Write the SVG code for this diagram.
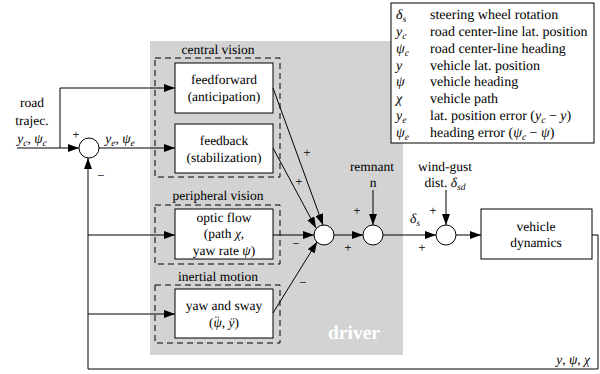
<svg xmlns="http://www.w3.org/2000/svg" width="600" height="374" viewBox="0 0 600 374" font-family="'Liberation Serif', 'Times New Roman', serif" font-size="13.5">
<defs>
<marker id="ah" markerUnits="userSpaceOnUse" markerWidth="11" markerHeight="8" refX="11" refY="4" orient="auto">
<path d="M0,0 L11,4 L0,8 z" fill="#000"/>
</marker>
</defs>
<style>
text{font-family:'Liberation Serif','Times New Roman',serif;font-size:13.5px;fill:#000;text-rendering:geometricPrecision}
.c{text-anchor:middle}
.i{font-style:italic}
.sub{font-size:9.5px;font-style:italic}
.lg{font-size:14px}
.box{fill:#fff;stroke:#000;stroke-width:1}
.dash{fill:none;stroke:#000;stroke-width:1;stroke-dasharray:6,4}
.sum{fill:#fff;stroke:#000;stroke-width:1}
.arr{fill:none;stroke:#000;stroke-width:1;marker-end:url(#ah)}
.sg{font-size:13px}
</style>
<rect width="600" height="374" fill="#fff"/>
<g id="driver">
<rect x="150" y="41" width="253" height="314" fill="#d3d3d3"/>
<text x="354" y="339" class="c" style="font-size:19.5px;font-weight:bold;fill:#fff">driver</text>
</g>
<g id="legend">
<rect x="391" y="3" width="203" height="140" class="box"/>
<text x="396" y="19" class="i lg">δ<tspan class="sub" dy="3">s</tspan></text>
<text x="430" y="19" class="lg">steering wheel rotation</text>
<text x="396" y="36" class="i lg">y<tspan class="sub" dy="3">c</tspan></text>
<text x="430" y="36" class="lg">road center-line lat. position</text>
<text x="396" y="53" class="i lg">ψ<tspan class="sub" dy="3">c</tspan></text>
<text x="430" y="53" class="lg">road center-line heading</text>
<text x="396" y="70" class="i lg">y</text>
<text x="430" y="70" class="lg">vehicle lat. position</text>
<text x="396" y="86" class="i lg">ψ</text>
<text x="430" y="86" class="lg">vehicle heading</text>
<text x="396" y="103" class="i lg">χ</text>
<text x="430" y="103" class="lg">vehicle path</text>
<text x="396" y="120" class="i lg">y<tspan class="sub" dy="3">e</tspan></text>
<text x="430" y="120" class="lg">lat. position error (<tspan class="i">y</tspan><tspan class="sub" dy="3">c</tspan><tspan dy="-3"> − </tspan><tspan class="i">y</tspan>)</text>
<text x="396" y="137" class="i lg">ψ<tspan class="sub" dy="3">e</tspan></text>
<text x="430" y="137" class="lg">heading error (<tspan class="i">ψ</tspan><tspan class="sub" dy="3">c</tspan><tspan dy="-3"> − </tspan><tspan class="i">ψ</tspan>)</text>
</g>
<g id="input-label">
<text x="32" y="107" class="c">road</text>
<text x="32" y="125" class="c">trajec.</text>
<text x="32" y="143" class="c"><tspan class="i">y</tspan><tspan class="sub" dy="3">c</tspan><tspan dy="-3">, </tspan><tspan class="i">ψ</tspan><tspan class="sub" dy="3">c</tspan></text>
</g>
<g id="central-vision">
<rect x="155" y="58" width="125" height="119" class="dash"/>
<text x="218" y="54" class="c">central vision</text>
</g>
<g id="peripheral-vision">
<rect x="155" y="205" width="125" height="59" class="dash"/>
<text x="218" y="200" class="c">peripheral vision</text>
</g>
<g id="inertial-motion">
<rect x="155" y="285" width="125" height="58" class="dash"/>
<text x="218" y="281" class="c">inertial motion</text>
</g>
<g id="feedforward">
<rect x="175" y="63" width="98" height="50" class="box"/>
<text x="224" y="84" class="c">feedforward</text>
<text x="224" y="101" class="c">(anticipation)</text>
</g>
<g id="feedback">
<rect x="175" y="124" width="98" height="49" class="box"/>
<text x="224" y="145" class="c">feedback</text>
<text x="224" y="162" class="c">(stabilization)</text>
</g>
<g id="optic-flow">
<rect x="175" y="209" width="98" height="50" class="box"/>
<text x="224" y="222" class="c">optic flow</text>
<text x="224" y="238" class="c">(path <tspan class="i">χ</tspan>,</text>
<text x="224" y="255" class="c">yaw rate <tspan class="i">ψ</tspan>)</text>
</g>
<g id="yaw-sway">
<rect x="175" y="289" width="98" height="49" class="box"/>
<text x="224" y="310" class="c">yaw and sway</text>
<text x="224" y="327" class="c">(<tspan class="i">ψ</tspan><tspan dx="-7" dy="-2">¨</tspan><tspan dx="2.5" dy="2">, </tspan><tspan class="i">ÿ</tspan>)</text>
</g>
<g id="vehicle-dynamics">
<rect x="481" y="209" width="111" height="50" class="box"/>
<text x="536" y="231" class="c">vehicle</text>
<text x="536" y="247" class="c">dynamics</text>
</g>
<g id="sum1"><circle cx="89" cy="148" r="10" class="sum"/></g>
<g id="sum2"><circle cx="324" cy="235" r="10" class="sum"/></g>
<g id="sum3"><circle cx="373" cy="235" r="10" class="sum"/></g>
<g id="sum4"><circle cx="446" cy="235" r="10" class="sum"/></g>
<g id="connectors">
<line x1="17" y1="148" x2="79" y2="148" class="arr"/>
<polyline points="60,148 60,88 175,88" class="arr"/>
<line x1="99" y1="148" x2="175" y2="148" class="arr"/>
<polyline points="592,235 598,235 598,369 88,369 88,158" class="arr"/>
<line x1="88" y1="235" x2="175" y2="235" class="arr"/>
<line x1="88" y1="314" x2="175" y2="314" class="arr"/>
<line x1="273" y1="88" x2="323" y2="225" class="arr"/>
<line x1="273" y1="148" x2="316" y2="228" class="arr"/>
<line x1="273" y1="235" x2="314" y2="235" class="arr"/>
<line x1="273" y1="313" x2="317" y2="242" class="arr"/>
<line x1="334" y1="235" x2="363" y2="235" class="arr"/>
<line x1="373" y1="190" x2="373" y2="225" class="arr"/>
<line x1="383" y1="235" x2="436" y2="235" class="arr"/>
<line x1="446" y1="190" x2="446" y2="225" class="arr"/>
<line x1="456" y1="235" x2="481" y2="235" class="arr"/>
</g>
<g id="labels">
<text x="76" y="139" class="c sg">+</text>
<text x="101" y="180" class="c sg">−</text>
<text x="120" y="143" class="c"><tspan class="i">y</tspan><tspan class="sub" dy="3">e</tspan><tspan dy="-3">, </tspan><tspan class="i">ψ</tspan><tspan class="sub" dy="3">e</tspan></text>
<text x="307" y="157" class="c sg">+</text>
<text x="299" y="186" class="c sg">+</text>
<text x="296" y="248" class="c sg">−</text>
<text x="303" y="287" class="c sg">−</text>
<text x="348" y="252" class="c sg">+</text>
<text x="357" y="215" class="c sg">+</text>
<text x="422" y="252" class="c sg">+</text>
<text x="433" y="215" class="c sg">+</text>
<text x="372" y="171" class="c">remnant</text>
<text x="373" y="187" class="c">n</text>
<text x="445" y="171" class="c">wind-gust</text>
<text x="445" y="187" class="c">dist. <tspan class="i">δ</tspan><tspan class="sub" dy="3">sd</tspan></text>
<text x="410" y="223" class="i">δ<tspan class="sub" dy="3">s</tspan></text>
<text x="590" y="364" style="text-anchor:end"><tspan class="i">y</tspan>, <tspan class="i">ψ</tspan>, <tspan class="i">χ</tspan></text>
</g>
</svg>
